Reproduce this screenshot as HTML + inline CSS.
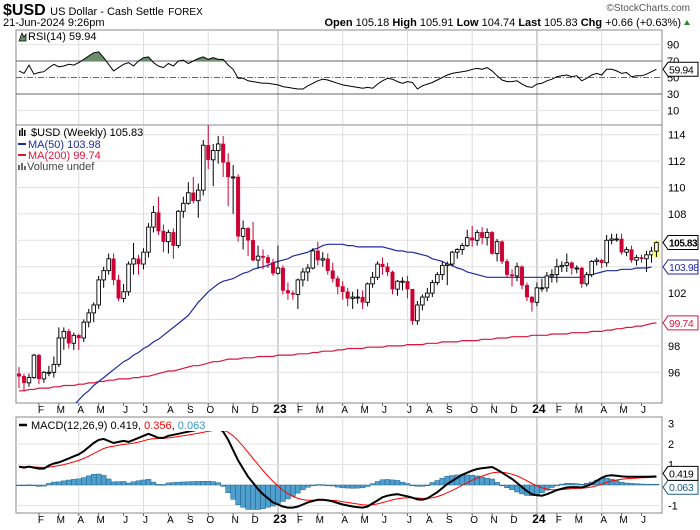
<!DOCTYPE html>
<html><head><meta charset="utf-8"><style>
html,body{margin:0;padding:0;background:#fff}
svg{display:block;font-family:"Liberation Sans",sans-serif}
</style></head><body>
<svg id="chart" width="700" height="530" viewBox="0 0 700 530" xmlns="http://www.w3.org/2000/svg">
<defs>
<clipPath id="rsiClip"><rect x="16" y="28" width="646" height="33"/></clipPath>
<clipPath id="mainClip"><rect x="16" y="125" width="646" height="278"/></clipPath>
<clipPath id="macdClip"><rect x="16" y="417" width="646" height="96"/></clipPath>
</defs>
<g>
<text x="3" y="15" font-size="16" font-weight="bold">$USD <tspan font-size="11" font-weight="normal">US Dollar - Cash Settle</tspan> <tspan font-size="10" font-weight="normal">FOREX</tspan></text>
<text x="690" y="11" font-size="10" fill="#555" text-anchor="end">©StockCharts.com</text>
<text x="3" y="26" font-size="11">21-Jun-2024 9:26pm</text>
<text x="681" y="26" font-size="11" text-anchor="end"><tspan font-weight="bold">Open</tspan> 105.18 <tspan font-weight="bold">High</tspan> 105.91 <tspan font-weight="bold">Low</tspan> 104.74 <tspan font-weight="bold">Last</tspan> 105.83 <tspan font-weight="bold">Chg</tspan> +0.66 (+0.63%)</text>
<polygon points="684,25 690,25 687,20" fill="#2a8a2a"/>
</g>
<g id="gRsi"></g>
<g id="gMain"></g>
<g id="gMacd"></g>
<g id="gAxis"></g>
</svg>
<script>
const firstOpen = 95.9;
const closes = [95.7,95.2,95.6,97.3,95.5,96.0,96.0,96.6,98.6,99.1,98.2,98.8,98.6,99.8,100.5,101.1,103.0,103.7,104.6,103.0,101.6,102.1,104.2,104.6,104.2,105.1,107.0,108.1,106.7,105.9,106.6,105.6,108.2,108.8,109.6,109.0,109.8,113.2,112.1,112.8,113.3,111.9,110.8,110.8,106.3,106.9,106.0,104.5,104.8,104.7,104.3,103.5,
103.9,102.2,102.0,101.9,103.0,103.6,103.9,105.2,104.5,104.6,103.7,103.1,102.5,102.1,101.6,101.7,101.7,101.3,102.7,103.2,104.2,104.0,103.6,102.3,102.9,102.9,102.3,99.9,101.1,101.7,102.0,102.8,103.4,104.1,104.2,105.1,105.3,105.6,106.2,106.0,106.6,106.2,106.6,105.0,105.9,104.4,103.4,103.3,104.0,102.6,101.7,101.3,
102.4,102.4,103.3,103.4,104.0,104.1,104.3,103.9,103.9,102.7,103.4,104.4,104.5,104.3,106.0,106.1,106.1,105.1,105.3,104.5,104.7,104.6,104.9,105.18,105.83];
const highs = [96.4,95.9,95.9,97.4,97.4,96.1,96.5,97.2,99.4,99.4,99.3,99.0,98.9,100.0,100.8,101.3,103.3,104.0,105.0,105.0,103.4,102.7,104.4,105.8,104.9,105.4,107.3,108.6,109.3,107.2,106.8,106.9,108.3,109.3,110.4,110.8,110.3,113.6,114.8,113.3,113.9,113.9,112.6,111.7,111.0,107.5,107.0,107.4,105.6,105.3,104.9,104.6,
105.6,104.1,102.8,102.2,103.1,103.9,104.2,105.4,105.9,105.1,105.0,104.3,103.3,102.9,102.4,102.1,102.3,102.2,102.8,103.6,104.4,104.7,104.3,103.7,103.0,103.2,103.3,102.3,101.4,101.9,102.4,103.0,103.6,104.4,104.4,105.2,105.4,105.8,106.8,107.1,106.8,107.0,106.9,106.7,106.1,106.0,104.6,103.8,104.3,104.1,102.8,101.8,
102.8,103.1,103.6,103.8,104.6,104.4,105.0,104.4,104.1,104.0,103.6,104.5,104.7,104.6,106.4,106.5,106.5,106.5,105.5,105.6,104.9,104.9,105.2,105.5,105.91];
const lows = [94.8,94.6,94.9,95.5,95.1,95.2,95.7,95.6,96.4,97.7,97.8,97.7,97.7,98.3,99.4,99.8,100.8,102.4,103.4,102.6,101.4,101.3,101.8,103.4,103.4,103.8,104.7,106.6,106.4,105.1,105.0,104.6,105.4,107.7,108.7,108.8,107.7,109.4,111.4,110.1,111.8,110.8,108.6,108.0,105.9,105.3,104.8,104.4,103.9,103.8,103.9,103.3,
103.4,101.9,101.5,101.5,100.8,102.5,102.9,103.8,104.1,104.0,103.4,102.8,101.9,101.5,101.0,100.8,101.2,100.8,101.0,102.4,103.0,103.4,103.3,101.9,101.8,102.2,101.6,99.6,99.6,100.7,101.4,101.7,102.6,103.0,102.6,104.0,104.6,104.9,105.5,105.5,105.6,105.7,105.6,104.9,104.4,104.2,103.2,102.5,102.9,102.3,101.4,100.6,
101.0,102.1,102.1,102.8,102.8,103.6,103.6,103.4,103.5,102.4,102.5,103.2,104.1,103.9,104.0,105.7,105.9,104.9,104.8,104.3,104.1,104.3,103.6,104.3,104.74];
const ma50 = [null,null,null,null,null,null,null,null,null,null,null,93.5,93.9,94.3,94.6,95.0,95.3,95.6,95.9,96.2,96.5,96.8,97.0,97.3,97.5,97.8,98.0,98.3,98.5,98.8,99.1,99.4,99.7,100.0,100.3,100.8,101.3,101.7,102.1,102.4,102.7,102.9,103.0,103.1,103.3,103.5,103.6,103.8,103.9,104.0,104.1,104.3,
104.4,104.5,104.6,104.8,104.9,105.0,105.1,105.3,105.4,105.6,105.7,105.7,105.7,105.7,105.6,105.6,105.5,105.5,105.5,105.5,105.5,105.5,105.4,105.3,105.2,105.2,105.1,105.1,105.0,104.9,104.8,104.6,104.5,104.4,104.2,104.1,103.9,103.8,103.6,103.5,103.4,103.3,103.2,103.2,103.2,103.2,103.2,103.2,103.2,103.2,
103.2,103.2,103.2,103.2,103.2,103.2,103.2,103.2,103.2,103.2,103.2,103.2,103.3,103.4,103.5,103.6,103.7,103.7,103.7,103.8,103.8,103.8,103.9,103.9,103.9,103.98];
const ma200 = [94.6,94.6,94.7,94.7,94.8,94.8,94.8,94.9,94.9,95.0,95.0,95.0,95.1,95.1,95.2,95.2,95.3,95.3,95.4,95.4,95.5,95.5,95.5,95.6,95.6,95.7,95.7,95.8,95.9,96.0,96.1,96.1,96.2,96.3,96.4,96.5,96.5,96.6,96.7,96.8,96.8,96.9,97.0,97.0,97.0,97.1,97.1,97.1,97.2,97.2,97.2,97.2,
97.3,97.3,97.3,97.3,97.4,97.4,97.4,97.5,97.5,97.6,97.6,97.6,97.7,97.7,97.8,97.8,97.8,97.8,97.9,97.9,97.9,97.9,98.0,98.0,98.0,98.0,98.1,98.1,98.1,98.1,98.2,98.2,98.2,98.3,98.3,98.3,98.3,98.4,98.4,98.4,98.4,98.5,98.5,98.5,98.6,98.6,98.6,98.7,98.7,98.7,98.7,98.8,
98.8,98.8,98.8,98.9,98.9,98.9,98.9,99.0,99.0,99.0,99.0,99.1,99.1,99.1,99.2,99.2,99.3,99.3,99.4,99.4,99.5,99.5,99.6,99.7,99.74];
const rsi = [58,55,65,54,56,57,62,66,63,64,66,65,68,72,76,80,81,74,66,58,62,66,68,64,70,74,75,68,64,62,67,64,70,71,67,70,73,75,72,74,72,72,65,60,49,49,46,45,44,43,43,42,
41,39,38,37,36,36,40,43,46,48,47,45,43,41,40,39,38,37,38,37,42,46,49,48,45,43,45,44,36,40,42,44,47,50,53,55,56,57,58,60,61,60,62,58,52,47,45,45,46,42,39,38,
42,43,46,48,51,52,53,51,52,46,49,53,55,53,60,60,58,55,56,51,52,52,54,57,59.94];
const macd = [0.9,0.85,0.9,0.85,0.8,0.8,0.95,1.05,1.1,1.2,1.3,1.4,1.5,1.65,1.85,2.05,2.2,2.25,2.15,2.05,2.1,2.15,2.1,2.2,2.3,2.4,2.5,2.4,2.3,2.3,2.4,2.45,2.5,2.55,2.6,2.65,2.7,2.75,2.8,2.82,2.8,2.6,2.2,1.7,1.2,0.8,0.4,0.1,-0.2,-0.45,-0.65,-0.85,
-0.95,-1.05,-1.1,-1.1,-1.05,-0.95,-0.85,-0.78,-0.72,-0.72,-0.75,-0.8,-0.88,-0.95,-1.0,-1.05,-1.08,-1.1,-1.05,-0.9,-0.75,-0.6,-0.52,-0.48,-0.45,-0.5,-0.55,-0.62,-0.7,-0.72,-0.65,-0.5,-0.35,-0.15,0.05,0.2,0.35,0.5,0.6,0.7,0.78,0.82,0.85,0.88,0.75,0.6,0.45,0.3,0.1,-0.1,-0.3,-0.45,-0.5,
-0.52,-0.45,-0.35,-0.25,-0.18,-0.12,-0.1,-0.1,-0.12,-0.05,0.05,0.2,0.35,0.45,0.48,0.45,0.42,0.4,0.4,0.4,0.4,0.4,0.41,0.419];
const monthLabels = ["F","M","A","M","J","J","A","S","O","N","D","23","F","M","A","M","J","J","A","S","O","N","D","24","F","M","A","M","J"];
const monthWeeks = [4,8,12,16,21,25,30,34,38,43,47,52,56,60,65,69,73,78,82,86,91,95,99,104,108,112,117,121,125];
const quarterWeeks = [12,25,38,52,65,78,91,104,117];
const yearWeeks = [52,104];
const priceGrid = [96,98,100,102,104,106,108,110,112,114];
const priceTicks = [96,98,102,108,110,112,114];
const rsiTicks = [90,70,50,30,10];
const macdTicks = [3,2,1,-1];

const NS="http://www.w3.org/2000/svg";
const L=16,R=662;
const x = i => 19 + i*4.98;
const yP = p => 134.7 + (114-p)*13.2;
const yR = r => 77.5 - (r-50)*0.825;
const yM = m => 485 - m*20.5;
function mk(tag, attrs, parent){const e=document.createElementNS(NS,tag);for(const k in attrs)e.setAttribute(k,attrs[k]);parent.appendChild(e);return e;}
const gR=document.getElementById('gRsi'), gM=document.getElementById('gMain'), gC=document.getElementById('gMacd'), gA=document.getElementById('gAxis');

function panel(g, y0, y1, name){
  const r=mk('rect',{x:L,y:y0,width:R-L,height:y1-y0,fill:'#fff',stroke:'#888','stroke-width':1},g);
  
  
  quarterWeeks.forEach(w=>{
    const ln=mk('line',{x1:x(w),x2:x(w),y1:y0,y2:y1,stroke:yearWeeks.includes(w)?'#aaa':'#ddd','stroke-width':1},g);
    
    
  });
}
function label(g,txt,xx,yy,attrs,name){const t=mk('text',Object.assign({x:xx,y:yy,'font-size':11},attrs||{}),g);t.textContent=txt;return t;}
function valueBox(g,txt,yy,color,bold,name){
  const w=30;
  const p=mk('path',{d:`M663 ${yy} L668 ${yy-7} L${668+w} ${yy-7} L${668+w} ${yy+7} L668 ${yy+7} Z`,fill:'#fff',stroke:color,'stroke-width':1},g);
  
  
  label(g,txt,669,yy+4,{fill:color,'font-weight':bold?'bold':'normal','font-size':bold?10:10.5,'letter-spacing':'-0.4'},name);
}

/* RSI panel */
panel(gR,30,125,'rsi-plot-area');
[90,10].forEach(v=>{const l=mk('line',{x1:L,x2:R,y1:yR(v),y2:yR(v),stroke:'#e4e4e4'},gR);});
[70,30].forEach(v=>{const l=mk('line',{x1:L,x2:R,y1:yR(v),y2:yR(v),stroke:'#666'},gR);});
{const l=mk('line',{x1:L,x2:R,y1:yR(50),y2:yR(50),stroke:'#666','stroke-dasharray':'6,2,1,2'},gR);}
let rp=rsi.map((v,i)=>`${x(i).toFixed(1)},${yR(v).toFixed(1)}`);
{const a=mk('path',{d:`M${x(0)},${yR(70)} L${rp.join(' L')} L${x(rsi.length-1)},${yR(70)} Z`,fill:'#6a8f6a',stroke:'none','clip-path':'url(#rsiClip)'},gR);}
{const l=mk('polyline',{points:rp.join(' '),fill:'none',stroke:'#000','stroke-width':1},gR);}
rsiTicks.forEach(v=>label(gR,String(v),667,yR(v)+4,{},'rsi-tick-label'));
label(gR,'RSI(14) 59.94',28,40,{},'rsi-legend');
{const ic=mk('path',{d:'M19 41 L22 33 L24 37 L26 34 L26 41 Z',fill:'#6a8f6a',stroke:'#000','stroke-width':0.7},gR);}
valueBox(gR,'59.94',yR(rsi[rsi.length-1]),'#000',false,'rsi-last-value');

/* Main price panel */
panel(gM,125,403,'price-plot-area');
priceGrid.forEach(v=>{const l=mk('line',{x1:L,x2:R,y1:yP(v),y2:yP(v),stroke:'#e0e0e0'},gM);});
const cg=mk('g',{'clip-path':'url(#mainClip)'},gM);


function line(g,arr,fn,color,w,name){let pts=[];arr.forEach((v,i)=>{if(v!==null)pts.push(`${x(i).toFixed(1)},${fn(v).toFixed(1)}`);});const l=mk('polyline',{points:pts.join(' '),fill:'none',stroke:color,'stroke-width':w},g);return l;}
line(cg,ma200,yP,'#d8173f',1.2,'ma200-line');
line(cg,ma50,yP,'#1f2aa0',1.2,'ma50-line');
closes.forEach((c,i)=>{
  const o=i===0?firstOpen:closes[i-1];
  const up=c>=o, xc=x(i);
  const col=up?'#000':'#cc0033';
  if(i===closes.length-1){const hl=mk('rect',{x:xc-3.5,y:yP(highs[i])-1,width:7,height:yP(lows[i])-yP(highs[i])+2,fill:'#ffff66'},cg);}
  const wk=mk('line',{x1:xc,x2:xc,y1:yP(highs[i]),y2:yP(lows[i]),stroke:col,'stroke-width':1},cg);
  
  
  const top=yP(Math.max(o,c)), h=Math.max(1,Math.abs(yP(o)-yP(c)));
  const b=mk('rect',{x:xc-1.8,y:top,width:3.6,height:h,fill:up?'#fff':'#cc0033',stroke:up?'#000':'#cc0033','stroke-width':up?0.9:0.4},cg);
  
  
});
priceTicks.forEach(v=>label(gM,String(v),668,yP(v)+4,{},'price-tick-label'));
valueBox(gM,'105.83',yP(closes[closes.length-1]),'#000',true,'last-price');
valueBox(gM,'103.98',yP(ma50[ma50.length-1]),'#1f2aa0',false,'ma50-value');
valueBox(gM,'99.74',yP(ma200[ma200.length-1]),'#d8173f',false,'ma200-value');
{const ic=mk('path',{d:'M19 130 h1.5 v6 h-1.5 z M21.5 128 h1.5 v8 h-1.5 z M24 130 h1.5 v6 h-1.5z',fill:'#000'},gM);}
label(gM,'$USD (Weekly) 105.83',31,136,{},'price-legend');
{const l=mk('line',{x1:18,x2:26,y1:144,y2:144,stroke:'#1f2aa0','stroke-width':2},gM);}
label(gM,'MA(50) 103.98',28,148,{fill:'#1f2aa0'},'ma50-legend');
{const l=mk('line',{x1:18,x2:26,y1:155,y2:155,stroke:'#d8173f','stroke-width':2},gM);}
label(gM,'MA(200) 99.74',28,159,{fill:'#d8173f'},'ma200-legend');
{const ic=mk('path',{d:'M18 170 v-5 h2 v5z M21 170 v-7 h2 v7z M24 170 v-4 h2 v4z',fill:'#666'},gM);}
label(gM,'Volume undef',27,170,{fill:'#444'},'volume-legend');

/* MACD panel */
panel(gC,417,513,'macd-plot-area');
[2,1,-1].forEach(v=>{const l=mk('line',{x1:L,x2:R,y1:yM(v),y2:yM(v),stroke:'#e4e4e4'},gC);});
const signal=[];macd.forEach((m,i)=>signal.push(i===0?m:signal[i-1]+(m-signal[i-1])*0.2));
const hist=macd.map((m,i)=>m-signal[i]);
const hg=mk('g',{'clip-path':'url(#macdClip)'},gC);


hist.forEach((h,i)=>{
  const y0=yM(0), y1=yM(h);
  const b=mk('rect',{x:x(i)-2.49,y:Math.min(y0,y1),width:4.98,height:Math.max(0.8,Math.abs(y1-y0)),fill:'#4f9fce',stroke:'#1e6088','stroke-width':0.5},hg);
  
  
});
line(hg,signal,yM,'#ff0000',1,'macd-signal-line');
line(hg,macd,yM,'#000',2,'macd-line');
macdTicks.forEach(v=>label(gC,String(v),668,yM(v)+4,{},'macd-tick-label'));
valueBox(gC,'0.063',yM(hist[hist.length-1])+3,'#1e6088',false,'macd-histogram-value');
valueBox(gC,'0.419',yM(macd[macd.length-1])-3,'#000',false,'macd-value');
{const bg=mk('rect',{x:18,y:419,width:208,height:12,fill:'#fff'},gC);}
{const l=mk('line',{x1:19,x2:27,y1:425,y2:425,stroke:'#000','stroke-width':2.5},gC);}
{const t=label(gC,'',31,429,{},'macd-legend');t.innerHTML='MACD(12,26,9) 0.419, <tspan fill="#ff0000">0.356</tspan>, <tspan fill="#3399cc">0.063</tspan>';}

/* x-axis month labels */
[413,523].forEach((yy,k)=>{
  monthLabels.forEach((m,j)=>{
    const yr=m.length===2;
    label(gA,m,x(monthWeeks[j])+2,yy,{'text-anchor':'middle','font-size':yr?12:10,'font-weight':yr?'bold':'normal'},'month-label');
    const tk=mk('line',{x1:x(monthWeeks[j]),x2:x(monthWeeks[j]),y1:k?513:403,y2:k?516:406,stroke:'#666'},gA);
    
    
  });
});
</script>
</body></html>
